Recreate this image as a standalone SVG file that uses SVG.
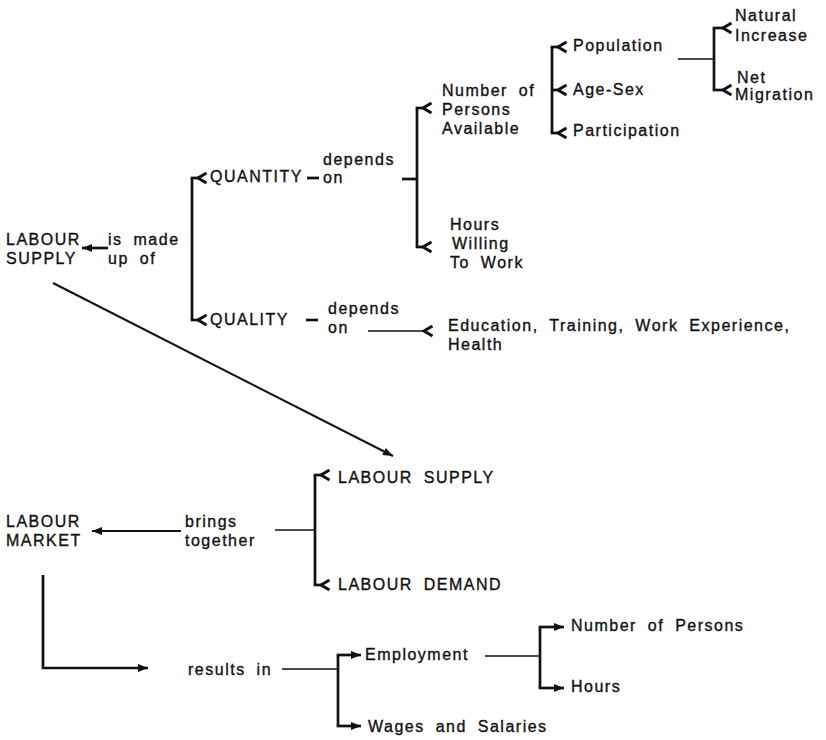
<svg xmlns="http://www.w3.org/2000/svg" width="826" height="740" viewBox="0 0 826 740">
<style>
.t{font-family:"Liberation Sans",Arial,sans-serif;font-size:16px;letter-spacing:1.5px;word-spacing:5px;fill:#111;stroke:#111;stroke-width:0.35}
.thick{stroke:#111;stroke-width:2.7;fill:none}
.thin{stroke:#111;stroke-width:1.6;fill:none}
.chev{marker-end:url(#chev)}
.arr{marker-end:url(#arr)}
</style>
<defs>
<marker id="chev" viewBox="-2 -7 13 14" refX="0" refY="0" markerWidth="13" markerHeight="14" markerUnits="userSpaceOnUse" orient="auto" overflow="visible">
<path d="M8.5,-5 L0,0 L8.5,5" fill="none" stroke="#111" stroke-width="3" stroke-linejoin="miter"/>
</marker>
<marker id="arr" viewBox="-11 -5 12 10" refX="0" refY="0" markerWidth="12" markerHeight="10" markerUnits="userSpaceOnUse" orient="auto" overflow="visible">
<path d="M-10,-4 L0,0 L-10,4 Z" fill="#111"/>
</marker>
</defs>
<rect width="826" height="740" fill="#fff"/>

<g id="connectors">
<!-- is made up of -> LABOUR SUPPLY -->
<line class="thick arr" x1="108" y1="248" x2="82" y2="248"/>
<!-- bracket QUANTITY / QUALITY -->
<path class="thick" d="M192,178 V320"/>
<line class="thick chev" x1="190.7" y1="178" x2="198" y2="178"/>
<line class="thick chev" x1="190.7" y1="320" x2="198" y2="320"/>
<!-- QUANTITY dash -->
<line class="thick" x1="307" y1="178" x2="319" y2="178"/>
<!-- depends on -> bracket -->
<line class="thick" x1="402" y1="179" x2="417" y2="179"/>
<path class="thick" d="M417,108 V247"/>
<line class="thick chev" x1="415.7" y1="108" x2="423" y2="108"/>
<line class="thick chev" x1="415.7" y1="247" x2="423" y2="247"/>
<!-- Number of persons bracket -->
<path class="thick" d="M552,47 V133"/>
<line class="thick chev" x1="550.7" y1="47" x2="558" y2="47"/>
<line class="thick chev" x1="552" y1="90" x2="558" y2="90"/>
<line class="thick chev" x1="550.7" y1="133" x2="558" y2="133"/>
<!-- Population bracket -->
<line class="thin" x1="678" y1="59" x2="714" y2="59"/>
<path class="thick" d="M714,28 V90"/>
<line class="thick chev" x1="712.7" y1="28" x2="723" y2="28"/>
<line class="thick chev" x1="712.7" y1="90" x2="723" y2="90"/>
<!-- QUALITY dash -->
<line class="thick" x1="306" y1="320" x2="318" y2="320"/>
<!-- depends on -> Education -->
<line class="thin chev" x1="368" y1="331" x2="424" y2="331"/>
<!-- diagonal -->
<line class="thin arr" x1="53" y1="283" x2="393" y2="456" style="stroke-width:2"/>
<!-- brings together -> LABOUR MARKET -->
<line class="thin arr" x1="181" y1="531" x2="92" y2="531" style="stroke-width:2"/>
<line class="thin" x1="275" y1="530" x2="315" y2="530"/>
<path class="thick" d="M315,475 V585"/>
<line class="thick chev" x1="313.7" y1="475" x2="321" y2="475"/>
<line class="thick chev" x1="313.7" y1="585" x2="321" y2="585"/>
<!-- LABOUR MARKET -> results in -->
<path class="thick arr" d="M43,575 V668 H148"/>
<!-- results in -> Employment / Wages -->
<line class="thin" x1="282" y1="669" x2="338" y2="669"/>
<path class="thick" d="M338,655 V726"/>
<line class="thick arr" x1="336.7" y1="655" x2="361" y2="655"/>
<line class="thick arr" x1="336.7" y1="726" x2="361" y2="726"/>
<!-- Employment -> Number of Persons / Hours -->
<line class="thin" x1="485" y1="656" x2="540" y2="656"/>
<path class="thick" d="M540,627 V688"/>
<line class="thick arr" x1="538.7" y1="627" x2="564" y2="627"/>
<line class="thick arr" x1="538.7" y1="688" x2="564" y2="688"/>
</g>

<g id="n-labour-supply"><text class="t" x="6" y="245">LABOUR</text><text class="t" x="6" y="264">SUPPLY</text></g>
<g id="n-is-made-up-of"><text class="t" x="108" y="245">is made</text><text class="t" x="108" y="264">up of</text></g>
<g id="n-quantity"><text class="t" x="210" y="182">QUANTITY</text></g>
<g id="n-depends-on-1"><text class="t" x="323" y="165">depends</text><text class="t" x="323" y="183">on</text></g>
<g id="n-number-of-persons-available"><text class="t" x="442" y="96">Number of</text><text class="t" x="442" y="115">Persons</text><text class="t" x="442" y="134">Available</text></g>
<g id="n-hours-willing"><text class="t" x="450" y="230">Hours</text><text class="t" x="452" y="249">Willing</text><text class="t" x="450" y="268">To Work</text></g>
<g id="n-population"><text class="t" x="573" y="51">Population</text></g>
<g id="n-age-sex"><text class="t" x="573" y="95">Age-Sex</text></g>
<g id="n-participation"><text class="t" x="573" y="136">Participation</text></g>
<g id="n-natural-increase"><text class="t" x="735" y="21">Natural</text><text class="t" x="735" y="41">Increase</text></g>
<g id="n-net-migration"><text class="t" x="737" y="83">Net</text><text class="t" x="735" y="100">Migration</text></g>
<g id="n-quality"><text class="t" x="210" y="325">QUALITY</text></g>
<g id="n-depends-on-2"><text class="t" x="328" y="314">depends</text><text class="t" x="328" y="333">on</text></g>
<g id="n-education"><text class="t" x="448" y="331">Education, Training, Work Experience,</text><text class="t" x="448" y="350">Health</text></g>
<g id="n-labour-supply-2"><text class="t" x="338" y="483">LABOUR SUPPLY</text></g>
<g id="n-labour-demand"><text class="t" x="338" y="590">LABOUR DEMAND</text></g>
<g id="n-labour-market"><text class="t" x="6" y="527">LABOUR</text><text class="t" x="6" y="546">MARKET</text></g>
<g id="n-brings-together"><text class="t" x="185" y="527">brings</text><text class="t" x="185" y="546">together</text></g>
<g id="n-results-in"><text class="t" x="188" y="675">results in</text></g>
<g id="n-employment"><text class="t" x="365" y="660">Employment</text></g>
<g id="n-wages"><text class="t" x="368" y="732">Wages and Salaries</text></g>
<g id="n-number-of-persons"><text class="t" x="571" y="631">Number of Persons</text></g>
<g id="n-hours"><text class="t" x="571" y="692">Hours</text></g>
</svg>
